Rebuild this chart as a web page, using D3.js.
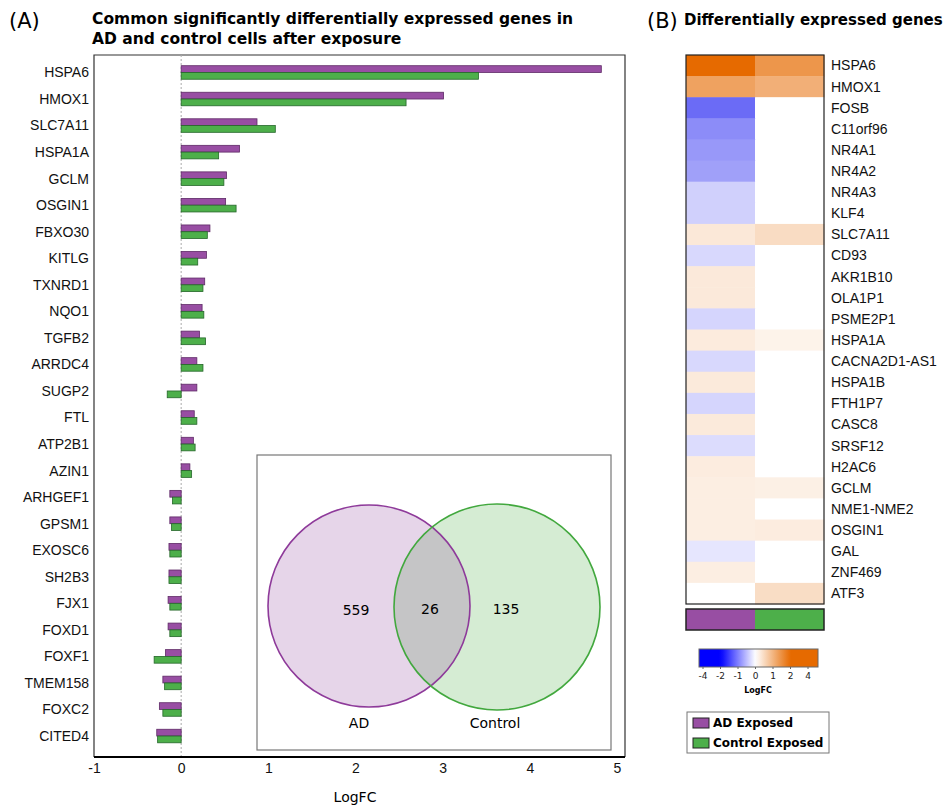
<!DOCTYPE html>
<html>
<head>
<meta charset="utf-8">
<script src="https://cdn.jsdelivr.net/npm/d3@7"></script>
<style>
  body { margin: 0; background: #fff; }
  svg { display: block; }
</style>
</head>
<body>
<svg id="chart" width="944" height="805"></svg>
<script>
// ---- panel A: common DEGs ----
const genes = ["HSPA6", "HMOX1", "SLC7A11", "HSPA1A", "GCLM", "OSGIN1", "FBXO30", "KITLG", "TXNRD1", "NQO1",
  "TGFB2", "ARRDC4", "SUGP2", "FTL", "ATP2B1", "AZIN1", "ARHGEF1", "GPSM1", "EXOSC6", "SH2B3",
  "FJX1", "FOXD1", "FOXF1", "TMEM158", "FOXC2", "CITED4"];
const adLogFC = [4.82, 3.01, 0.87, 0.67, 0.52, 0.51, 0.33, 0.29, 0.27, 0.24,
  0.21, 0.18, 0.18, 0.15, 0.14, 0.10, -0.13, -0.13, -0.14, -0.14,
  -0.15, -0.15, -0.18, -0.21, -0.25, -0.28];
const ctrlLogFC = [3.41, 2.58, 1.08, 0.43, 0.49, 0.63, 0.30, 0.19, 0.25, 0.26,
  0.28, 0.25, -0.16, 0.18, 0.16, 0.12, -0.10, -0.11, -0.13, -0.14,
  -0.13, -0.13, -0.31, -0.19, -0.21, -0.27];
const xTicks = [-1, 0, 1, 2, 3, 4, 5];

// venn
const vennSets = ["AD", "Control"];
const vennCounts = [559, 26, 135];

// ---- panel B: heatmap ----
const hmGenes = ["HSPA6", "HMOX1", "FOSB", "C11orf96", "NR4A1", "NR4A2", "NR4A3", "KLF4", "SLC7A11", "CD93",
  "AKR1B10", "OLA1P1", "PSME2P1", "HSPA1A", "CACNA2D1-AS1", "HSPA1B", "FTH1P7", "CASC8", "SRSF12", "H2AC6",
  "GCLM", "NME1-NME2", "OSGIN1", "GAL", "ZNF469", "ATF3"];
const hmAD = [4.82, 3.01, -2.8, -2.17, -1.94, -1.8, -0.88, -0.88, 0.73, -0.74,
  0.7, 0.7, -0.8, 0.65, -0.74, 0.68, -0.8, 0.68, -0.66, 0.6,
  0.55, 0.55, 0.55, -0.47, 0.55, null];
const hmCtrl = [3.41, 2.58, null, null, null, null, null, null, 1.13, null,
  null, null, null, 0.4, null, null, null, null, null, null,
  0.5, null, 0.6, null, null, 1.1];
const hmColumns = ["AD Exposed", "Control Exposed"];
const legendTicks = [-4, -2, -1, 0, 1, 2, 4];

const purple = "#984ea3", green = "#4daf4a";
const sans = "'Liberation Sans', Arial, sans-serif";
const dejavu = "'DejaVu Sans', Verdana, sans-serif";

const svg = d3.select("#chart");

// ================= Panel A =================
const A = { left: 94, right: 625, top: 55, bottom: 757 };

svg.append("text").attr("x", 9).attr("y", 28)
  .style("font-family", dejavu).style("font-size", "21px").text("(A)");
svg.append("text").attr("x", 92).attr("y", 24)
  .style("font-family", dejavu).style("font-size", "15.5px").style("font-weight", "bold")
  .text("Common significantly differentially expressed genes in");
svg.append("text").attr("x", 92).attr("y", 44)
  .style("font-family", dejavu).style("font-size", "15.5px").style("font-weight", "bold")
  .text("AD and control cells after exposure");

const x = d3.scaleLinear().domain([-1, 5]).range([A.left, 617]);
const y = d3.scaleBand().domain(genes).range([59.2, 749.3]).paddingInner(0.49).paddingOuter(0.245);
const ySub = d3.scaleBand().domain(["ad", "ctrl"]).range([0, y.bandwidth()]);

svg.append("path")
  .attr("d", `M${A.left},${A.bottom}V${A.top}H${A.right}V${A.bottom}`)
  .attr("fill", "none").attr("stroke", "#333").attr("stroke-width", 1.2);

// zero line
svg.append("line")
  .attr("x1", x(0)).attr("x2", x(0)).attr("y1", A.top).attr("y2", A.bottom)
  .attr("stroke", "#aaa").attr("stroke-dasharray", "2,2");

const rows = genes.map((g, i) => ({ gene: g, ad: adLogFC[i], ctrl: ctrlLogFC[i] }));
const groups = svg.append("g").selectAll("g").data(rows).join("g")
  .attr("transform", d => `translate(0,${y(d.gene)})`);

[["ad", purple, "#5e2a66"], ["ctrl", green, "#25662a"]].forEach(([key, fill, edge]) => {
  groups.append("rect")
    .attr("x", d => Math.min(x(0), x(d[key])))
    .attr("y", ySub(key))
    .attr("width", d => Math.abs(x(d[key]) - x(0)))
    .attr("height", ySub.bandwidth())
    .attr("fill", fill)
    .attr("stroke", edge).attr("stroke-width", 0.8);
});

// gene labels
svg.append("g").selectAll("text").data(genes).join("text")
  .attr("x", A.left - 5)
  .attr("y", d => y(d) + y.bandwidth() / 2)
  .attr("dy", "0.35em")
  .attr("text-anchor", "end")
  .style("font-family", sans).style("font-size", "14px").attr("fill", "#111")
  .text(d => d);

// x axis
const xAxis = svg.append("g").attr("transform", `translate(0,${A.bottom})`)
  .call(d3.axisBottom(x).tickValues(xTicks).tickSize(0).tickPadding(6).tickFormat(d => String(d)));
xAxis.select(".domain").attr("d", `M${A.left},0H${A.right}`).attr("stroke", "#000").attr("stroke-width", 2);
xAxis.selectAll("text").style("font-family", sans).style("font-size", "14px").attr("fill", "#111");

svg.append("text").attr("x", 355).attr("y", 802)
  .attr("text-anchor", "middle")
  .style("font-family", dejavu).style("font-size", "14px").text("LogFC");

// ---- Venn inset ----
const venn = svg.append("g");
venn.append("rect").attr("x", 257).attr("y", 455).attr("width", 354).attr("height", 295)
  .attr("fill", "#fff").attr("stroke", "#777").attr("stroke-width", 1.2);

const circles = [
  { set: vennSets[0], cx: 369, cy: 606, r: 101, fill: "#e6d5e9", stroke: "#8e3a9a" },
  { set: vennSets[1], cx: 497, cy: 607, r: 103, fill: "#d5ecd3", stroke: "#42a83e" }
];
const defs = svg.append("defs");
defs.append("clipPath").attr("id", "clipAD").append("circle")
  .attr("cx", circles[0].cx).attr("cy", circles[0].cy).attr("r", circles[0].r);

venn.selectAll("circle.fill").data(circles).join("circle").attr("class", "fill")
  .attr("cx", d => d.cx).attr("cy", d => d.cy).attr("r", d => d.r).attr("fill", d => d.fill);
venn.append("circle").attr("clip-path", "url(#clipAD)")
  .attr("cx", circles[1].cx).attr("cy", circles[1].cy).attr("r", circles[1].r).attr("fill", "#c5c5c6");
venn.selectAll("circle.edge").data(circles).join("circle").attr("class", "edge")
  .attr("cx", d => d.cx).attr("cy", d => d.cy).attr("r", d => d.r)
  .attr("fill", "none").attr("stroke", d => d.stroke).attr("stroke-width", 1.6);

const countPos = [[356, 610], [430, 609], [506, 609]];
venn.selectAll("text.count").data(vennCounts).join("text").attr("class", "count")
  .attr("x", (d, i) => countPos[i][0]).attr("y", (d, i) => countPos[i][1])
  .attr("dy", "0.35em").attr("text-anchor", "middle")
  .style("font-family", dejavu).style("font-size", "14px").text(d => d);
venn.selectAll("text.set").data(circles).join("text").attr("class", "set")
  .attr("x", (d, i) => [359, 495][i]).attr("y", 723)
  .attr("dy", "0.35em").attr("text-anchor", "middle")
  .style("font-family", dejavu).style("font-size", "14px").text(d => d.set);

// ================= Panel B =================
svg.append("text").attr("x", 647).attr("y", 28)
  .style("font-family", dejavu).style("font-size", "21px").text("(B)");
svg.append("text").attr("x", 684).attr("y", 25)
  .style("font-family", dejavu).style("font-size", "15px").style("font-weight", "bold")
  .text("Differentially expressed genes");

const H = { left: 686, right: 824, top: 55, bottom: 604 };
const hx = d3.scaleBand().domain(hmColumns).range([H.left, H.right]);
const hy = d3.scaleBand().domain(hmGenes).range([H.top, H.bottom]);
const color = d3.scaleLinear().domain([-4.82, 0, 4.82])
  .range(["#0000f0", "#ffffff", "#e66a00"]).clamp(true);

const cells = [];
hmGenes.forEach((g, i) => {
  cells.push({ gene: g, col: hmColumns[0], v: hmAD[i] });
  cells.push({ gene: g, col: hmColumns[1], v: hmCtrl[i] });
});
svg.append("g").selectAll("rect").data(cells).join("rect")
  .attr("x", d => hx(d.col)).attr("y", d => hy(d.gene))
  .attr("width", hx.bandwidth() + 0.5).attr("height", hy.bandwidth() + 0.5)
  .attr("fill", d => d.v == null ? "#fff" : color(d.v));
svg.append("rect").attr("x", H.left).attr("y", H.top)
  .attr("width", H.right - H.left).attr("height", H.bottom - H.top)
  .attr("fill", "none").attr("stroke", "#222").attr("stroke-width", 1.2);

svg.append("g").selectAll("text").data(hmGenes).join("text")
  .attr("x", H.right + 7).attr("y", d => hy(d) + hy.bandwidth() / 2)
  .attr("dy", "0.35em")
  .style("font-family", sans).style("font-size", "14px").attr("fill", "#111")
  .text(d => d);

// column annotation bar
const annY = 609, annH = 21;
svg.append("g").selectAll("rect").data(hmColumns).join("rect")
  .attr("x", d => hx(d)).attr("y", annY)
  .attr("width", hx.bandwidth()).attr("height", annH)
  .attr("fill", (d, i) => i === 0 ? purple : green);
svg.append("rect").attr("x", H.left).attr("y", annY)
  .attr("width", H.right - H.left).attr("height", annH)
  .attr("fill", "none").attr("stroke", "#222").attr("stroke-width", 1.5);

// color legend
const lg = { left: 699, right: 818, top: 649, h: 18 };
const lx = d3.scalePoint().domain(legendTicks).range([703, 808]);
const legendColor = d3.scaleLinear().domain([-2, 0, 2]).range(["#0000ff", "#ffffff", "#e66a00"]).clamp(true);
const valAt = d3.scaleLinear().domain(legendTicks.map(t => lx(t))).range(legendTicks);
const grad = defs.append("linearGradient").attr("id", "lgGrad")
  .attr("x1", lg.left).attr("x2", lg.right).attr("gradientUnits", "userSpaceOnUse");
d3.range(lg.left, lg.right + 1, 4).forEach(px => {
  grad.append("stop").attr("offset", (px - lg.left) / (lg.right - lg.left))
    .attr("stop-color", legendColor(valAt(px)));
});
svg.append("rect").attr("x", lg.left).attr("y", lg.top)
  .attr("width", lg.right - lg.left).attr("height", lg.h)
  .attr("fill", "url(#lgGrad)").attr("stroke", "#666").attr("stroke-width", 1);
svg.append("g").selectAll("line").data(legendTicks).join("line")
  .attr("x1", d => lx(d)).attr("x2", d => lx(d))
  .attr("y1", lg.top + lg.h).attr("y2", lg.top + lg.h + 2).attr("stroke", "#666");
svg.append("g").selectAll("text").data(legendTicks).join("text")
  .attr("x", d => lx(d)).attr("y", 676).attr("dy", "0.35em").attr("text-anchor", "middle")
  .style("font-family", dejavu).style("font-size", "9px").attr("fill", "#222")
  .text(d => d);
svg.append("text").attr("x", 758).attr("y", 690).attr("dy", "0.35em").attr("text-anchor", "middle")
  .style("font-family", dejavu).style("font-size", "8px").style("font-weight", "bold")
  .text("LogFC");

// group legend
const leg = svg.append("g");
leg.append("rect").attr("x", 687).attr("y", 712).attr("width", 142).attr("height", 41)
  .attr("fill", "#fff").attr("stroke", "#777");
const legItems = leg.selectAll("g").data(hmColumns).join("g")
  .attr("transform", (d, i) => `translate(693,${718 + i * 20})`);
legItems.append("rect").attr("width", 16).attr("height", 10)
  .attr("fill", (d, i) => i === 0 ? purple : green).attr("stroke", "#222").attr("stroke-width", 1);
legItems.append("text").attr("x", 20).attr("y", 5).attr("dy", "0.35em")
  .style("font-family", dejavu).style("font-size", "12px").style("font-weight", "bold")
  .text(d => d);
</script>
</body>
</html>
